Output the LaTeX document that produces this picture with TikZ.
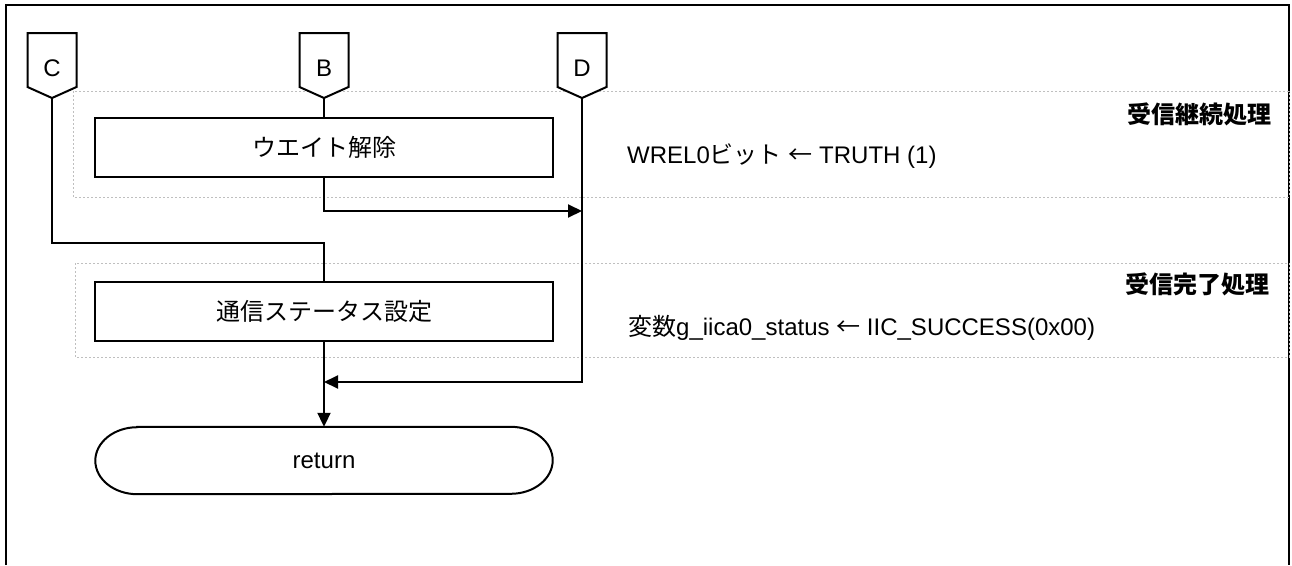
\documentclass[tikz,border=0pt]{standalone}
\usepackage{fontspec}
\setmainfont{Liberation Sans}
\newfontfamily\cjk{Noto Sans CJK JP}
\usetikzlibrary{arrows.meta}

\tikzset{
  boxline/.style={draw, line width=2pt},
  flow/.style={line width=2pt},
  grouprect/.style={draw=gray!50, line width=0.8pt, dash pattern=on 2pt off 2pt},
  txt/.style={font=\fontsize{24pt}{28pt}\selectfont, inner sep=0pt},
  headtxt/.style={txt, anchor=east, font=\fontsize{24pt}{28pt}\selectfont\cjk\bfseries},
  procbox/.style={boxline, txt, minimum width=458pt, minimum height=59pt},
}

\begin{document}
\begin{tikzpicture}[x=1pt, y=-1pt, >={Triangle[length=14pt, width=13pt]}]
    \useasboundingbox (0,0) rectangle (1292,565);

    % Open frame (no bottom edge)
    \draw[line width=2.4pt] (6,565) -- (6,5) -- (1289,5) -- (1289,565);

    % Group areas
    \draw[grouprect] (73,91) rectangle (1289,197);
    \draw[grouprect] (75,263) rectangle (1289,357);

    % Off-page connectors
    \foreach \n/\x in {C/52, B/324, D/582} {
        \draw[boxline, fill=white] (\x-24.5,33) -- (\x+24.5,33) -- (\x+24.5,87) -- (\x,98) -- (\x-24.5,87) -- cycle;
        \node[txt] (con\n) at (\x,68) {\n};
        \coordinate (tip\n) at (\x,98);
    }

    % Process boxes
    \node[procbox] (wait) at (324,147.5) {\cjk ウエイト解除};
    \node[procbox] (status) at (324,311.5) {\cjk 通信ステータス設定};

    % Terminal
    \node[txt, minimum width=457pt, minimum height=67pt] (ret) at (324,460.5) {return};
    \draw[boxline] ([xshift=42pt]ret.north west) -- ([xshift=-42pt]ret.north east)
        arc[start angle=90, end angle=-90, x radius=42pt, y radius=33.5pt]
        -- ([xshift=42pt]ret.south west)
        arc[start angle=270, end angle=90, x radius=42pt, y radius=33.5pt] -- cycle;

    % Merge points
    \coordinate (joinD) at (582,211);
    \coordinate (joinC) at (324,243);
    \coordinate (joinR) at (324,382);

    % Connectors
    \draw[flow] (tipB) -- (wait.north);
    \draw[flow, ->] (wait.south) |- (joinD);
    \draw[flow] (tipC) |- (joinC) -- (status.north);
    \draw[flow, ->] (tipD) |- (joinR);
    \draw[flow, ->] (status.south) -- (ret.north);

    % Notes
    \node[txt, anchor=west] (noteWrel) at (627,156) {WREL0\cjk ビット\rmfamily{} \cjk ←\rmfamily{} TRUTH (1)};
    \node[txt, anchor=west] (noteStat) at (628,328) {\cjk 変数\rmfamily g\_iica0\_status \cjk ←\rmfamily{} IIC\_SUCCESS(0x00)};
    \node[headtxt] (headCont) at (1272,114) {受信継続処理};
    \node[headtxt] (headDone) at (1270,284) {受信完了処理};
\end{tikzpicture}
\end{document}
